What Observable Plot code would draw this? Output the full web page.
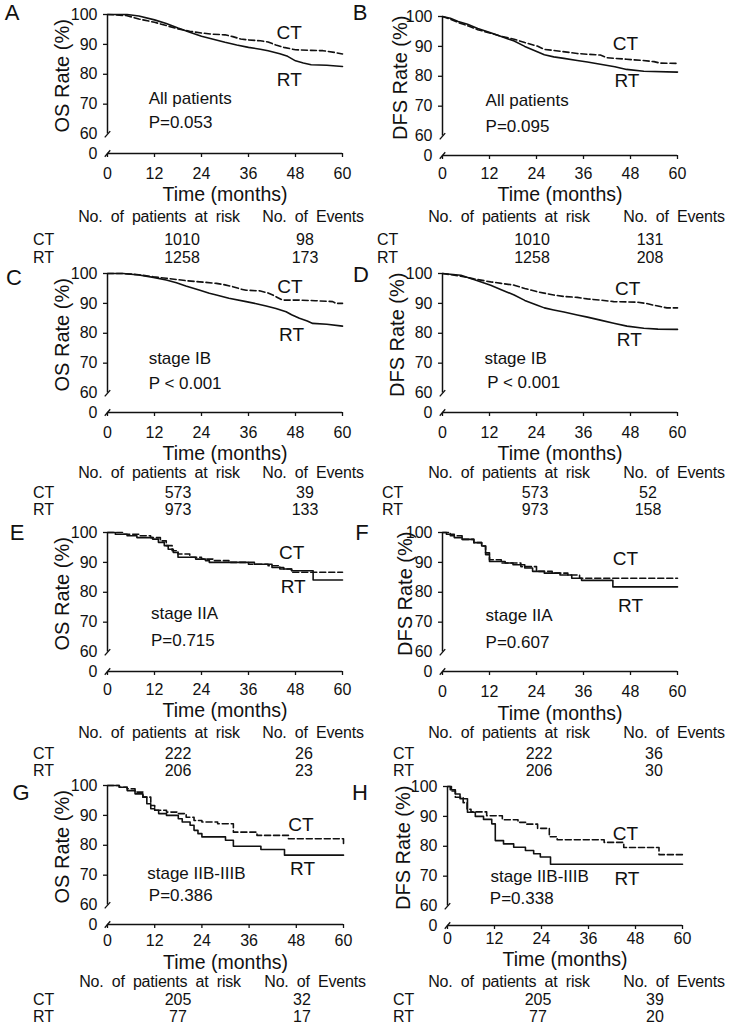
<!DOCTYPE html>
<html>
<head>
<meta charset="utf-8">
<script src="https://cdn.jsdelivr.net/npm/d3@7"></script>
<script src="https://cdn.jsdelivr.net/npm/@observablehq/plot@0.6"></script>
<style>
  html, body { margin: 0; padding: 0; background: #fff; }
  #fig { position: relative; width: 731px; height: 1034px; overflow: hidden; font-family: "Liberation Sans", Arial, sans-serif; color: #111; }
  .abs { position: absolute; white-space: nowrap; line-height: 1; }
</style>
</head>
<body>
<div id="fig"></div>
<script>
// ---------------- DATA ----------------
const panelIds = ["A","B","C","D","E","F","G","H"];
const endpoints = ["OS Rate (%)","DFS Rate (%)","OS Rate (%)","DFS Rate (%)","OS Rate (%)","DFS Rate (%)","OS Rate (%)","DFS Rate (%)"];
const subgroups = ["All patients","All patients","stage IB","stage IB","stage IIA","stage IIA","stage IIB-IIIB","stage IIB-IIIB"];
const pValues = ["P=0.053","P=0.095","P < 0.001","P < 0.001","P=0.715","P=0.607","P=0.386","P=0.338"];
const groups = ["CT","RT"];
const patientsCT = [1010,1010,573,573,222,222,205,205];
const patientsRT = [1258,1258,973,973,206,206,77,77];
const eventsCT = [98,131,39,52,26,36,32,39];
const eventsRT = [173,208,133,158,23,30,17,20];
const monthTicks = [0,12,24,36,48,60];
const rateTicks = [70,80,90,100];
const breakBase = 53.5;          // position used for the "0" tick below the axis break
const timeLabel = "Time (months)";
const headerRisk = "No. of patients at risk";
const headerEvents = "No. of Events";

// survival curves [month, rate %]
const osAllRT = [[0,100],[5,100],[8,99.5],[12,98.2],[15,97],[18,95.5],[21,94.1],[24,92.7],[27,91.7],[30,90.7],[33,89.8],[36,89.0],[39,88.4],[41,87.9],[44,86.9],[46,86.0],[48,84.5],[50,83.8],[52,83.2],[56,83.0],[60,82.6]];
const osAllCT = [[0,100],[3,99.8],[5,99.6],[8,98.5],[12,97.4],[15,96.3],[18,95.2],[21,94.4],[24,93.8],[27,93.4],[30,93.2],[32,92.6],[34,91.8],[36,91.5],[39,91.2],[41,90.8],[43,89.8],[45,89.0],[48,88.2],[52,88.0],[55,87.9],[58,87.3],[60,86.8]];
const dfsAllRT = [[0,100],[2,99.4],[4,98.3],[6.4,97.4],[9,96.0],[12.3,94.6],[15,93.3],[18.3,91.8],[21,90.0],[24.2,88.2],[26,87.2],[28.4,86.5],[31,86.0],[34.4,85.3],[37,84.8],[40.3,84.0],[44,83.2],[47,82.3],[51.4,81.7],[60,81.4]];
const dfsAllCT = [[0,100],[2,99.1],[4,98.0],[6.4,96.9],[9,95.6],[12.3,94.4],[15,93.4],[18.3,92.4],[21,91.3],[24.2,90.1],[26,89.0],[30,88.4],[34.4,87.6],[40.3,87.1],[42,86.2],[47,85.7],[51,85.3],[54,84.9],[55.6,84.4],[60,84.3]];
const osIBRT = [[0,100],[4,100],[8,99.5],[11.7,98.7],[15,97.8],[17.6,96.9],[20,95.8],[23.6,94.4],[26,93.4],[27.8,92.8],[31,91.7],[35.4,90.6],[38,89.9],[40.5,89.1],[43,88.3],[45.6,87.2],[47,86.2],[49,85.0],[51,84.1],[52.4,83.3],[56,83.0],[60,82.4]];
const osIBCT = [[0,100],[4,100],[8,99.6],[11.7,98.9],[15,98.4],[17.6,98.0],[20,97.6],[23.6,97.2],[27.8,96.7],[30,96.2],[32,95.6],[34,94.8],[35.4,94.4],[38.8,94.2],[41,93.5],[42.2,92.8],[43.5,91.9],[44.7,91.1],[49,91.1],[53,90.9],[57.5,90.6],[58.3,90.0],[60,90.0]];
const dfsIBRT = [[0,100],[4.7,99.4],[8,98.0],[12.3,96.1],[15,94.6],[18.3,92.8],[21,91.0],[24.2,89.4],[26,88.5],[28.4,87.8],[31,87.1],[34.4,86.1],[37,85.4],[40.3,84.4],[44,83.3],[47.1,82.4],[51.4,81.7],[55,81.4],[60,81.3]];
const dfsIBCT = [[0,100],[4.7,99.1],[8,98.2],[12.3,97.2],[15,96.7],[18.3,96.1],[21,95.0],[24.2,93.9],[28.4,92.8],[31,92.3],[34.4,92.0],[37,91.5],[40.3,91.1],[43.7,90.6],[49.7,90.4],[52,90.0],[53.9,89.4],[57.3,88.5],[60,88.5]];
const osIIART = [[0,100],[2,99.4],[5,98.9],[7.5,98.3],[11.5,97.8],[13,96.7],[14.5,95.6],[15.5,94.4],[16.8,93.3],[18,91.7],[22.5,91.1],[25,90.6],[26,90.0],[37.5,89.4],[42,88.3],[45,87.8],[47,87.2],[52.5,84.1],[60,84.1]];
const osIIACT = [[0,100],[4,99.4],[8,98.9],[11,98.3],[13.5,97.2],[15,95.6],[16.5,93.9],[18,92.8],[21,91.7],[24,91.1],[27,90.6],[31,90.0],[36,89.4],[41,88.9],[44,87.8],[47,86.7],[60,86.7]];
const dfsIIART = [[0,100],[1,99.4],[3,98.3],[5,97.7],[8,96.6],[10,95.5],[11,93.2],[12,90.3],[16,89.8],[18,89.2],[21,88.1],[23,87.0],[26,86.4],[30,85.8],[33,84.7],[35.5,84.0],[43.5,81.8],[60,81.8]];
const dfsIIACT = [[0,100],[2,98.9],[5,97.7],[8,96.6],[10,95.5],[11,92.6],[12,90.9],[15,89.8],[20,88.6],[24,87.0],[28,86.4],[32,85.8],[35,84.7],[60,84.7]];
const osIIBRT = [[0,100],[3,99.4],[5,98.3],[7,97.2],[9,96.1],[10,93.9],[11,92.2],[12,91.7],[13,90.6],[15,90.0],[18,88.9],[19,87.8],[21,86.7],[22,85.0],[23,83.9],[24,82.8],[30,81.7],[32,79.7],[39,78.6],[45,76.7],[60,76.7]];
const osIIBCT = [[0,100],[3,99.4],[5,98.9],[7,97.8],[9,96.1],[11,93.3],[12,91.7],[15,91.1],[18,90.6],[20,89.4],[22,88.3],[24,87.8],[28,87.2],[32,84.4],[38,83.3],[46,82.2],[60,79.8]];
const dfsIIBRT = [[0,100],[0.7,98.9],[2,97.5],[3.2,95.9],[5.1,91.4],[7.1,90.0],[9.2,89.0],[11.3,87.5],[12.2,81.9],[14.3,80.8],[16.9,79.7],[19.9,78.6],[22,77.5],[23.7,76.4],[26.3,74.0],[60,74.0]];
const dfsIIBCT = [[0,100],[1,98.5],[2,96.4],[4,94.6],[5,92.4],[6,91.5],[10,90.2],[14,88.9],[18,88.0],[20,87.4],[23,86.0],[26,83.2],[28,82.2],[40,81.3],[45,79.6],[54,77.2],[60,77.2]];

const curvesRT = [osAllRT, dfsAllRT, osIBRT, dfsIBRT, osIIART, dfsIIART, osIIBRT, dfsIIBRT];
const curvesCT = [osAllCT, dfsAllCT, osIBCT, dfsIBCT, osIIACT, dfsIIACT, osIIBCT, dfsIIBCT];

// ---------------- LAYOUT (pixels / label anchors) ----------------
const layout = [
  {left:0,   top:4,   w:365, ml:107, mr:23, tp:10, tdy:41, ydx:-45, curve:"linear", letter:[12,13],  ct:[46.4,93.9], rt:[46.4,78.2], sub:[10.5,71.8], p:[10.5,63.7],
   head:217, rowCT:240, rowRT:258, lab:33,  val:182, ev:305, h1:159, h2:313},
  {left:365, top:6,   w:366, ml:77,  mr:54, tp:8,  tdy:39, ydx:-42, curve:"linear", letter:[360,13], ct:[46.7,90.7], rt:[47.1,78.4], sub:[11,72],     p:[11,63.3],
   head:217, rowCT:240, rowRT:258, lab:377, val:532, ev:650, h1:509, h2:674},
  {left:0,   top:263, w:365, ml:107, mr:23, tp:10, tdy:41, ydx:-45, curve:"linear", letter:[14,278], ct:[46.6,95.5], rt:[47,79.4],   sub:[10.5,71.7], p:[10.5,63.3],
   head:473, rowCT:493, rowRT:510, lab:33,  val:178, ev:305, h1:159, h2:313},
  {left:365, top:263, w:366, ml:77,  mr:54, tp:10, tdy:41, ydx:-45, curve:"linear", letter:[361,275],ct:[47.3,95],   rt:[47.7,77.8], sub:[10.7,71.7], p:[11.4,63.4],
   head:473, rowCT:493, rowRT:510, lab:382, val:535, ev:648, h1:509, h2:674},
  {left:0,   top:522, w:365, ml:107, mr:23, tp:8,  tdy:39, ydx:-45, curve:"step-after", letter:[17,533], ct:[47,93.3], rt:[47.4,81.7], sub:[11.1,72.8], p:[11.1,63.9],
   head:733, rowCT:754, rowRT:771, lab:33,  val:178, ev:304, h1:159, h2:313},
  {left:365, top:522, w:366, ml:77,  mr:54, tp:10, tdy:42, ydx:-37, curve:"step-after", letter:[362,533], ct:[46.7,91.1], rt:[48,75.6], sub:[11,72.2], p:[11,63.3],
   head:733, rowCT:754, rowRT:771, lab:393, val:539, ev:654, h1:509, h2:674},
  {left:0,   top:775, w:365, ml:107, mr:22, tp:6,  tdy:38, ydx:-45, curve:"step-after", letter:[21,793], ct:[49.2,86.7], rt:[49.6,72.2], sub:[10.1,70.6], p:[10.5,63.3],
   head:982, rowCT:1000, rowRT:1017, lab:33, val:178, ev:302, h1:160, h2:315},
  {left:365, top:776, w:366, ml:82,  mr:49, tp:3,  tdy:34, ydx:-44, curve:"step-after", letter:[360,793], ct:[45.4,84.2], rt:[45.8,69.2], sub:[11,70.0], p:[10.8,62.6],
   head:982, rowCT:1000, rowRT:1017, lab:393, val:538, ev:655, h1:509, h2:674}
];

const FONT = '"Liberation Sans", Arial, sans-serif';
const fig = document.getElementById("fig");

function addText(x, y, str, anchor, size, extra) {
  const d = document.createElement("div");
  d.className = "abs";
  d.textContent = str;
  d.style.left = x + "px";
  d.style.top = y + "px";
  d.style.fontSize = size + "px";
  d.style.transform = anchor === "middle" ? "translate(-50%,-50%)" : "translate(0,-50%)";
  if (extra) Object.assign(d.style, extra);
  fig.appendChild(d);
}

const toRows = arr => arr.map(([t, s]) => ({t, s}));

panelIds.forEach((id, i) => {
  const L = layout[i];
  const breakMarks = [
    {x1: -0.7, y1: 58.9, x2: 0.7, y2: 61.0},
    {x1: -0.7, y1: breakBase - 1.1, x2: 0.7, y2: breakBase + 1.1}
  ];
  const annotations = [
    {t: L.ct[0], s: L.ct[1], label: groups[0], anchor: "middle"},
    {t: L.rt[0], s: L.rt[1], label: groups[1], anchor: "middle"},
    {t: L.sub[0], s: L.sub[1], label: subgroups[i], anchor: "start"},
    {t: L.p[0], s: L.p[1], label: pValues[i], anchor: "start"}
  ];
  const svg = Plot.plot({
    width: L.w,
    height: 10 + 139 + 60,
    marginTop: 10,
    marginBottom: 60,
    marginLeft: L.ml,
    marginRight: L.mr,
    x: {domain: [0, 60]},
    y: {domain: [breakBase, 100]},
    style: {background: "transparent", overflow: "visible", fontFamily: FONT, fontSize: "16px", color: "#111"},
    marks: [
      Plot.ruleX([0], {y1: 100, y2: 60, strokeWidth: 1.5}),
      Plot.ruleY([breakBase], {x1: 0, x2: 60, strokeWidth: 1.5}),
      Plot.link(breakMarks, {x1: "x1", y1: "y1", x2: "x2", y2: "y2", strokeWidth: 1.3}),
      Plot.axisY({ticks: rateTicks, tickSize: 4, tickPadding: 6, label: null, strokeWidth: 1.3}),
      Plot.axisY({ticks: [breakBase, 60], tickSize: 0, tickPadding: 10, label: null,
                  tickFormat: d => d === breakBase ? "0" : String(d)}),
      Plot.axisX({ticks: monthTicks, tickSize: 4, tickPadding: L.tp, label: null, strokeWidth: 1.3}),
      Plot.line(toRows(curvesRT[i]), {x: "t", y: "s", curve: L.curve, strokeWidth: 1.6}),
      Plot.line(toRows(curvesCT[i]), {x: "t", y: "s", curve: L.curve, strokeWidth: 1.6, strokeDasharray: "6,3"}),
      Plot.text([endpoints[i]], {text: d => d, y: [79.5], frameAnchor: "left", dx: L.ydx, rotate: -90,
                                 textAnchor: "middle", lineAnchor: "middle", fontSize: 20}),
      Plot.text([timeLabel], {text: d => d, frameAnchor: "bottom", dy: L.tdy, textAnchor: "middle",
                              lineAnchor: "middle", fontSize: 19.5}),
      Plot.text(annotations.filter(a => a.anchor === "middle"), {x: "t", y: "s", text: "label", fontSize: 19,
                              textAnchor: "middle", lineAnchor: "middle"}),
      Plot.text(annotations.filter(a => a.anchor === "start"), {x: "t", y: "s", text: "label", fontSize: 17,
                              textAnchor: "start", lineAnchor: "middle"})
    ]
  });
  svg.style.position = "absolute";
  svg.style.left = L.left + "px";
  svg.style.top = L.top + "px";
  fig.appendChild(svg);

  // panel letter
  addText(L.letter[0], L.letter[1], id, "middle", 22);
  // risk table
  const headStyle = {wordSpacing: "4px", letterSpacing: "-0.2px"};
  addText(L.h1, L.head, headerRisk, "middle", 16, headStyle);
  addText(L.h2, L.head, headerEvents, "middle", 16, headStyle);
  addText(L.lab, L.rowCT, groups[0], "start", 16);
  addText(L.lab, L.rowRT, groups[1], "start", 16);
  addText(L.val, L.rowCT, String(patientsCT[i]), "middle", 16);
  addText(L.val, L.rowRT, String(patientsRT[i]), "middle", 16);
  addText(L.ev, L.rowCT, String(eventsCT[i]), "middle", 16);
  addText(L.ev, L.rowRT, String(eventsRT[i]), "middle", 16);
});
</script>
</body>
</html>
